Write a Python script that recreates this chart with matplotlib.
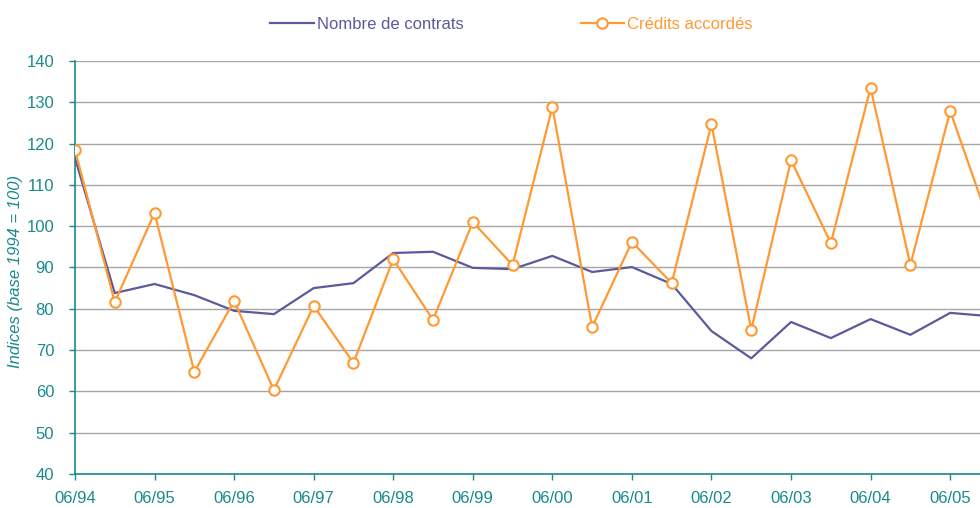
import matplotlib
matplotlib.use("Agg")
from matplotlib import pyplot as plt

# Half-year points starting at 06/94
contrats = [116.5, 83.8, 86.0, 83.3, 79.5, 78.7, 85.0, 86.2, 93.5, 93.8, 89.9, 89.6,
            92.8, 88.9, 90.1, 86.0, 74.6, 68.0, 76.8, 72.9, 77.5, 73.7, 79.0, 78.2]
credits = [118.5, 81.6, 103.2, 64.7, 81.9, 60.3, 80.7, 66.9, 92.0, 77.3, 101.0, 90.6,
           128.9, 75.6, 96.2, 86.2, 124.7, 74.9, 116.0, 95.9, 133.5, 90.6, 127.9, 100.3]
tick_labels = ["06/94", "06/95", "06/96", "06/97", "06/98", "06/99", "06/00",
               "06/01", "06/02", "06/03", "06/04", "06/05"]

TEAL = "#1a8a8a"
PURPLE = "#5b5a9c"
ORANGE = "#ff9933"

plt.rcParams['font.family'] = ['Liberation Sans', 'DejaVu Sans']

fig = plt.figure(figsize=(9.8, 5.08), dpi=100)
ax = fig.add_axes([0.0765, 0.067, 0.9235, 0.813])

x = list(range(len(contrats)))
ax.plot(x, contrats, color=PURPLE, lw=1.6, label="Nombre de contrats", zorder=3)
ax.plot(x, credits, color=ORANGE, lw=1.6, marker="o", markersize=7.5,
        markerfacecolor="white", markeredgecolor=ORANGE, markeredgewidth=1.5,
        label="Crédits accordés", zorder=4)

ax.set_xlim(0, 22.75)
ax.set_ylim(40, 140)
ax.set_yticks(range(40, 141, 10))
ax.set_xticks(range(0, 23, 2))
ax.set_xticklabels(tick_labels)

ax.yaxis.grid(True, color="#a6a6a6", lw=1)
ax.set_axisbelow(True)

for side in ["top", "right"]:
    ax.spines[side].set_visible(False)
for side in ["left", "bottom"]:
    ax.spines[side].set_color(TEAL)
    ax.spines[side].set_linewidth(1.2)

ax.tick_params(axis="both", colors=TEAL, labelsize=12, length=4, width=1)
ax.tick_params(axis="y", pad=11)
ax.tick_params(axis="x", pad=8)

ax.set_ylabel("Indices (base 1994 = 100)", color=TEAL, fontsize=12, style="italic")
ax.yaxis.set_label_coords(-0.057, 0.49)

leg = fig.legend(loc="upper center", bbox_to_anchor=(0.522, 0.997), ncol=2,
                 frameon=False, fontsize=12, columnspacing=7, handlelength=2.6,
                 handletextpad=0.2)
leg.get_texts()[0].set_color(PURPLE)
leg.get_texts()[1].set_color(ORANGE)

fig.savefig("out.png", dpi=100)
